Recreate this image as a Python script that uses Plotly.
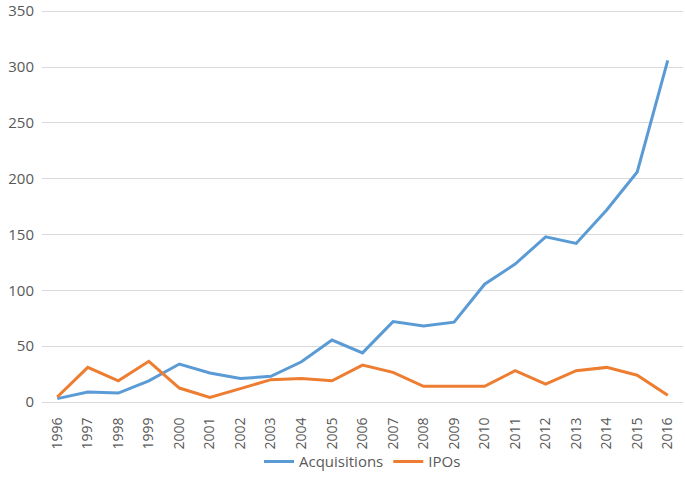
import plotly.graph_objects as go

years = [str(y) for y in range(1996, 2017)]
acquisitions = [3, 9, 8, 19, 34, 26, 21, 23, 36, 55.5, 44, 72, 68, 71.5, 105.5, 123.5, 148, 142, 172, 206, 306]
ipos = [4.5, 31, 19, 36.5, 12.5, 4, 12, 20, 21, 19, 33, 26.5, 14, 14, 14, 28, 16, 28, 31, 24, 6]
y_ticks = [0, 50, 100, 150, 200, 250, 300, 350]

fig = go.Figure()
fig.add_trace(go.Scatter(x=years, y=acquisitions, mode="lines", name="Acquisitions",
                         line=dict(color="#5B9BD5", width=3)))
fig.add_trace(go.Scatter(x=years, y=ipos, mode="lines", name="IPOs",
                         line=dict(color="#ED7D31", width=3)))

fig.update_layout(
    template="none",
    width=685, height=481,
    margin=dict(l=42, r=2, t=9, b=79, autoexpand=False),
    paper_bgcolor="white", plot_bgcolor="white",
    font=dict(family="Open Sans, Liberation Sans, sans-serif", size=15, color="#595959"),
    showlegend=True,
    legend=dict(orientation="h", x=0.5, xanchor="center", y=-0.11, yanchor="top",
                bgcolor="rgba(0,0,0,0)",
                font=dict(size=15, color="#595959")),
)
fig.update_xaxes(type="category", tickangle=-90, showgrid=False, showline=True,
                 linecolor="#d9d9d9", linewidth=1, ticks="outside", ticklen=9,
                 tickcolor="rgba(0,0,0,0)", range=[-0.5, 20.5], automargin=False,
                 tickfont=dict(size=14, color="#595959"))
fig.update_yaxes(range=[0, 352], tickvals=y_ticks, ticklabeloverflow="allow",
                 showgrid=True, gridcolor="#d9d9d9", automargin=False,
                 gridwidth=1, zeroline=False, ticks="outside", ticklen=4,
                 tickcolor="rgba(0,0,0,0)", showline=False,
                 tickfont=dict(size=15, color="#595959"))

fig.write_html("out.html", config={"displayModeBar": False},
               post_script="document.body.style.margin='0px';document.body.style.padding='0px';")
